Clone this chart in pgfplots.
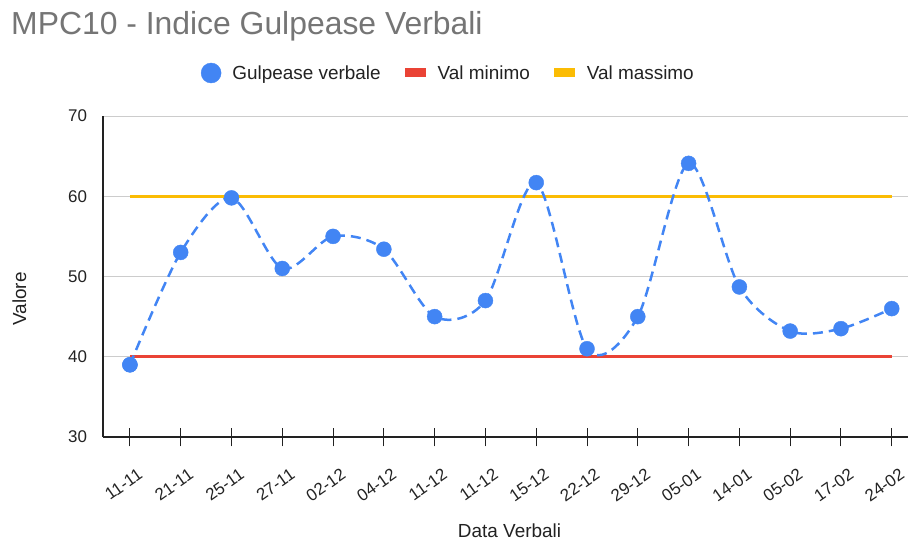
\documentclass[border=0pt]{standalone}
\usepackage{pgfplots}
\pgfplotsset{compat=1.18}
\usepackage{fontspec}
\setmainfont{Liberation Sans}
\definecolor{gblue}{HTML}{4285F4}
\definecolor{gred}{HTML}{EA4335}
\definecolor{gyellow}{HTML}{FBBC04}
\definecolor{gtitle}{HTML}{757575}
\definecolor{ggrid}{HTML}{CCCCCC}
\definecolor{gtext}{HTML}{222222}
\begin{document}
\begin{tikzpicture}
\path[use as bounding box] (0bp,0bp) rectangle (909bp,542bp);
\node[anchor=base west, text=gtitle, font=\fontsize{32}{32}\selectfont, inner sep=0pt] at (11bp,507bp) {MPC10 - Indice Gulpease Verbali};
\begin{axis}[
  at={(103bp,105bp)}, anchor=south west,
  scale only axis, width=805bp, height=321bp,
  xmin=-0.53, xmax=15.32, ymin=30, ymax=70,
  axis x line=bottom, axis y line=left,
  axis line style={-, gtext, line width=1.2bp},
  ytick={30,40,50,60,70},
  ymajorgrids, grid style={ggrid, line width=1bp},
  ytick style={draw=none},
  xtick={0,...,15},
  xticklabels={11-11,21-11,25-11,27-11,02-12,04-12,11-12,11-12,15-12,22-12,29-12,05-01,14-01,05-02,17-02,24-02},
  xtick align=center, major tick length=19bp,
  xtick style={gtext, line width=1bp},
  /pgf/number format/assume math mode=true,
  tick label style={font=\fontsize{17}{17}\selectfont, text=gtext},
  x tick label style={rotate=35, anchor=north east, xshift=-3bp, yshift=-18bp},
  yticklabel style={xshift=-3bp},
  ylabel={Valore}, xlabel={Data Verbali},
  label style={font=\fontsize{19}{19}\selectfont, text=gtext},
  ylabel style={at={(axis description cs:-0.104,0.43)}, anchor=center},
  xlabel style={at={(axis description cs:0.505,-0.293)}, anchor=center},
  legend style={at={(0.429,1.134)}, anchor=center, draw=none, fill=none,
    font=\fontsize{19}{19}\selectfont, text=gtext, legend columns=3,
    /tikz/every even column/.append style={column sep=22bp}},
]
\addplot[gblue, only marks, mark=*, mark size=7.5bp, mark options={draw=gblue, fill=gblue},
  legend image code/.code={\fill[gblue] (10bp,0bp) circle (10bp); \path (29bp,0bp);}] coordinates {(0,39)};
\addlegendentry{Gulpease verbale}
\addplot[gred, line width=3bp, legend image code/.code={\fill[gred] (0bp,-3bp) rectangle (18bp,3bp); \path (28bp,0bp);}] coordinates {(0,40) (15,40)};
\addlegendentry{Val minimo}
\addplot[gyellow, line width=3bp, legend image code/.code={\fill[gyellow] (0bp,-3bp) rectangle (18bp,3bp); \path (28bp,0bp);}] coordinates {(0,60) (15,60)};
\addlegendentry{Val massimo}
\addplot[gblue, line width=2.5bp, dash pattern=on 10bp off 6bp, smooth, tension=0.5, forget plot] coordinates {
(0,39) (1,53) (2,59.8) (3,51) (4,55) (5,53.4) (6,45) (7,47) (8,61.7) (9,41) (10,45) (11,64.1) (12,48.7) (13,43.2) (14,43.5) (15,46)};
\addplot[gblue, only marks, mark=*, mark size=7.5bp, mark options={draw=gblue, fill=gblue}, forget plot] coordinates {
(0,39) (1,53) (2,59.8) (3,51) (4,55) (5,53.4) (6,45) (7,47) (8,61.7) (9,41) (10,45) (11,64.1) (12,48.7) (13,43.2) (14,43.5) (15,46)};
\end{axis}
\end{tikzpicture}
\end{document}
